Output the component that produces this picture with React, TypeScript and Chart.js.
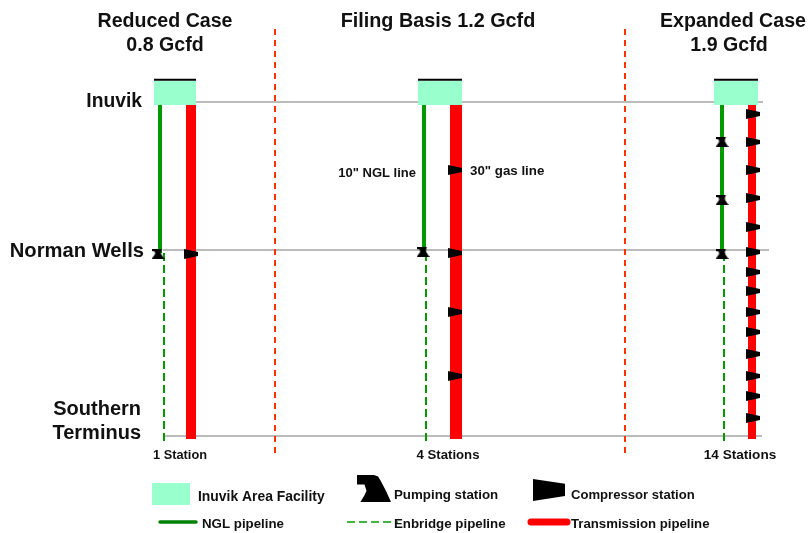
import React, { useEffect, useRef } from "react";
import { Chart, registerables } from "chart.js";

Chart.register(...registerables);

const FONT = '"Liberation Sans", Arial, sans-serif';

// schematic readings, in the units of the two linear axes
const levelInuvik = 102;
const levelNorman = 250;
const levelSouth = 436;

const dividerXs = [275, 625];
const ngl = [160, 424, 722];
const enbridge = [164, 426, 724];
const enbridgeEnd = [441, 441, 443];
const gas = [191, 456, 752];
const gasWidth = [10, 12, 8];
const gasEnd = [439, 439, 439];
const facilityLeft = [154, 418, 714];
const facilityRight = [196, 462, 758];
const gridEnd = [763, 769, 762];

const reducedCompressors = [254];
const filingCompressors = [170, 253, 312, 376];
const expandedCompressors = [114, 142, 170, 198, 227, 252, 272, 291, 312, 332, 354, 376, 396, 418];
const reducedPumps = [254];
const filingPumps = [252];
const expandedPumps = [142, 200, 254];

type Lbl = [string, number, number, number, CanvasTextAlign];
const textLabels: Lbl[] = [
  ["Reduced Case", 165, 27, 19.6, "center"],
  ["0.8 Gcfd", 165, 51, 19.6, "center"],
  ["Filing Basis 1.2 Gcfd", 438, 27, 19.8, "center"],
  ["Expanded Case", 733, 27, 19.6, "center"],
  ["1.9 Gcfd", 729, 51, 19.6, "center"],
  ["Inuvik", 142, 107, 19.3, "right"],
  ["Norman Wells", 144, 257, 20.2, "right"],
  ["Southern", 141, 415, 20, "right"],
  ["Terminus", 141, 439, 20, "right"],
  ['10" NGL line', 416, 177, 13, "right"],
  ['30" gas line', 470, 175, 13.3, "left"],
  ["1 Station", 180, 459, 12.8, "center"],
  ["4 Stations", 448, 459, 13.2, "center"],
  ["14 Stations", 740, 459, 13.6, "center"],
  ["Inuvik Area Facility", 198, 501, 13.9, "left"],
  ["Pumping station", 394, 499, 13.3, "left"],
  ["Compressor station", 571, 499, 13.1, "left"],
  ["NGL pipeline", 202, 528, 13.3, "left"],
  ["Enbridge pipeline", 394, 528, 13.3, "left"],
  ["Transmission pipeline", 571, 528, 13.2, "left"],
];

function glyph(w: number, h: number, pts: number[][]) {
  const c = document.createElement("canvas");
  c.width = w;
  c.height = h;
  const g = c.getContext("2d")!;
  g.fillStyle = "#000";
  g.beginPath();
  pts.forEach(([x, y], i) => (i ? g.lineTo(x * w, y * h) : g.moveTo(x * w, y * h)));
  g.closePath();
  g.fill();
  return c;
}
const pumpShape = [[0, 0], [0.5, 0], [0.62, 0.06], [0.7, 0.22], [0.85, 0.58], [1, 1], [0.1, 1], [0.22, 0.75], [0.28, 0.58], [0.22, 0.35], [0, 0.35]];
const pumpSmallShape = [[0, 0], [0.8, 0], [0.72, 0.3], [0.74, 0.5], [1, 1], [0, 1], [0.28, 0.5], [0.25, 0.25], [0, 0.2]];
const compShape = [[0, 0], [1, 0.22], [1, 0.77], [0, 1]];
const compSmallShape = [[0, 0], [1, 0.3], [1, 0.7], [0, 1]];

const seg = (x1: number, y1: number, x2: number, y2: number) => [{ x: x1, y: y1 }, { x: x2, y: y2 }];

const line = (data: any, color: string, width: number, extra: any = {}) => ({
  data,
  showLine: true,
  borderColor: color,
  borderWidth: width,
  pointRadius: 0,
  borderCapStyle: "butt",
  ...extra,
});
const marks = (data: any, style: any) => ({
  data,
  showLine: false,
  pointStyle: style,
  pointRadius: 6,
  pointBackgroundColor: "#000",
  pointBorderWidth: 0,
});

const labelPlugin = {
  id: "labels",
  afterDatasetsDraw(chart: any) {
    const { ctx, scales } = chart;
    ctx.save();
    ctx.fillStyle = "#111";
    ctx.textBaseline = "alphabetic";
    textLabels.forEach(([t, x, y, size, align]) => {
      ctx.font = `bold ${size}px ${FONT}`;
      ctx.textAlign = align;
      ctx.fillText(t, scales.x.getPixelForValue(x), scales.y.getPixelForValue(y));
    });
    ctx.restore();
  },
};

export default function App() {
  const ref = useRef<HTMLCanvasElement>(null);
  useEffect(() => {
    const comp = glyph(14, 10, compSmallShape);
    const pump = glyph(13, 10, pumpSmallShape);
    const compBig = glyph(32, 22, compShape);
    const pumpBig = glyph(34, 27, pumpShape);
    const datasets: any[] = [
      // first listed is painted on top
      marks([{ x: 191, y: reducedCompressors[0] }], comp),
      marks(filingCompressors.map((y) => ({ x: 455, y })), comp),
      marks(expandedCompressors.map((y) => ({ x: 753, y })), comp),
      marks(reducedPumps.map((y) => ({ x: 158, y })), pump),
      marks(filingPumps.map((y) => ({ x: 423, y })), pump),
      marks(expandedPumps.map((y) => ({ x: 722, y })), pump),
      marks([{ x: 374, y: 488.5 }], pumpBig),
      marks([{ x: 549, y: 490 }], compBig),
      line(seg(152, 494, 190, 494), "#99FFCC", 22),
      line(seg(160, 522, 196, 522), "#008000", 3.5, { borderCapStyle: "round" }),
      line(seg(347, 522, 398, 522), "#00A000", 1.5, { borderDash: [8, 4] }),
      line(seg(531, 522, 567, 522), "#FF0000", 7, { borderCapStyle: "round" }),
    ];
    facilityLeft.forEach((x, i) => {
      datasets.push(line(seg(x, 79.7, facilityRight[i], 79.7), "#000", 2));
      datasets.push(line(seg(x, 93, facilityRight[i], 93), "#99FFCC", 24));
    });
    gas.forEach((x, i) => datasets.push(line(seg(x, 105, x, gasEnd[i]), "#FF0000", gasWidth[i])));
    ngl.forEach((x) => datasets.push(line(seg(x, 105, x, levelNorman + 3), "#009900", 4)));
    enbridge.forEach((x, i) =>
      datasets.push(line(seg(x, levelNorman + 3, x, enbridgeEnd[i]), "#009900", 2, { borderDash: [8, 4] }))
    );
    dividerXs.forEach((x) => datasets.push(line(seg(x, 29, x, 457), "#FF3300", 2, { borderDash: [6, 5] })));
    datasets.push(line(seg(196, levelInuvik, gridEnd[0], levelInuvik), "#BBBBBB", 2));
    datasets.push(line(seg(163, levelNorman, gridEnd[1], levelNorman), "#BBBBBB", 2));
    datasets.push(line(seg(164, levelSouth, gridEnd[2], levelSouth), "#BBBBBB", 2));

    const chart = new Chart(ref.current!, {
      type: "scatter",
      data: { datasets },
      options: {
        animation: false,
        responsive: false,
        devicePixelRatio: 1,
        layout: { padding: 0, autoPadding: false },
        clip: false as any,
        plugins: { legend: { display: false }, tooltip: { enabled: false }, title: { display: false } },
        scales: {
          x: { type: "linear", min: 0, max: 810, display: false },
          y: { type: "linear", min: 0, max: 533, reverse: true, display: false },
        },
      },
      plugins: [labelPlugin],
    } as any);
    return () => chart.destroy();
  }, []);
  return (
    <div style={{ position: "absolute", left: 0, top: 0, width: 810, height: 533, background: "#fff" }}>
      <canvas ref={ref} width={810} height={533} style={{ display: "block" }} />
    </div>
  );
}
